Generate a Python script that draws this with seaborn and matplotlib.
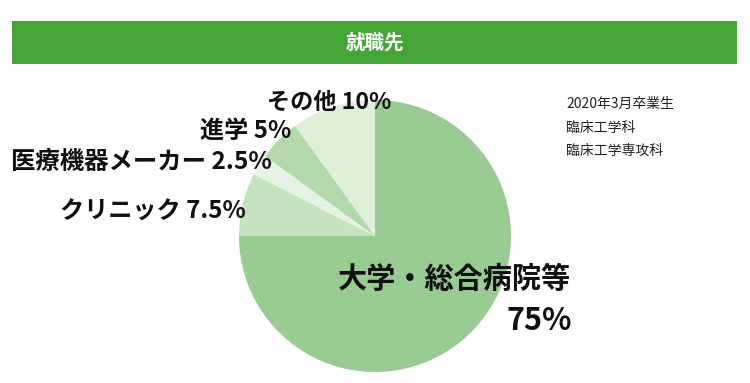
import matplotlib
matplotlib.use("Agg")
import matplotlib.pyplot as plt
import seaborn as sns
from matplotlib.patches import Rectangle

# Data
categories = ["大学・総合病院等", "クリニック", "医療機器メーカー", "進学", "その他"]
values = [75, 7.5, 2.5, 5, 10]
value_labels = ["75%", "7.5%", "2.5%", "5%", "10%"]
title = "就職先"
note_lines = ["2020年3月卒業生", "臨床工学科", "臨床工学専攻科"]

colors = ["#98cc92", "#c6e3c0", "#e6f2e3", "#b2d8ab", "#deeed9"]

sns.set_theme(style="white")
plt.rcParams['font.family'] = ['Noto Sans CJK JP', 'DejaVu Sans']

W, H = 750, 383
fig = plt.figure(figsize=(W / 100, H / 100), dpi=100)
fig.patch.set_facecolor("white")

def fx(x):
    return x / W

def fy(y):
    return 1 - y / H

# Title banner
fig.patches.append(Rectangle((fx(12), fy(64)), fx(737) - fx(12), fy(21) - fy(64),
                             transform=fig.transFigure, facecolor="#43a536",
                             edgecolor="none", zorder=0))
fig.text(fx(375), fy(43), title, color="white", fontsize=14, fontweight="bold",
         ha="center", va="center")

# Pie
cx, cy, r = 375, 236, 136
ax = fig.add_axes([fx(cx - r), fy(cy + r), (2 * r) / W, (2 * r) / H])
ax.pie(values, colors=colors, startangle=90, counterclock=False,
       wedgeprops=dict(linewidth=0))
ax.set_aspect("equal")
ax.set_xlim(-1, 1)
ax.set_ylim(-1, 1)
ax.axis("off")

# Labels
fig.text(fx(571), fy(279), categories[0], fontsize=21, fontweight="bold",
         ha="right", va="center", color="#111111")
fig.text(fx(572), fy(321), value_labels[0], fontsize=22, fontweight="bold",
         ha="right", va="center", color="#111111")

small = dict(fontweight="bold", ha="right", va="center", color="#111111")
fig.text(fx(246), fy(212), f"{categories[1]} {value_labels[1]}", fontsize=17.4, **small)
fig.text(fx(272), fy(162), f"{categories[2]} {value_labels[2]}", fontsize=17.6, **small)
fig.text(fx(291), fy(131), f"{categories[3]} {value_labels[3]}", fontsize=17.4, **small)
fig.text(fx(391), fy(102), f"{categories[4]} {value_labels[4]}", fontsize=16.7, **small)

# Note
for i, line in enumerate(note_lines):
    fig.text(fx(566), fy(104 + i * 23.5), line, fontsize=10, ha="left",
             va="center", color="#222222")

fig.savefig("out.png", dpi=100)
